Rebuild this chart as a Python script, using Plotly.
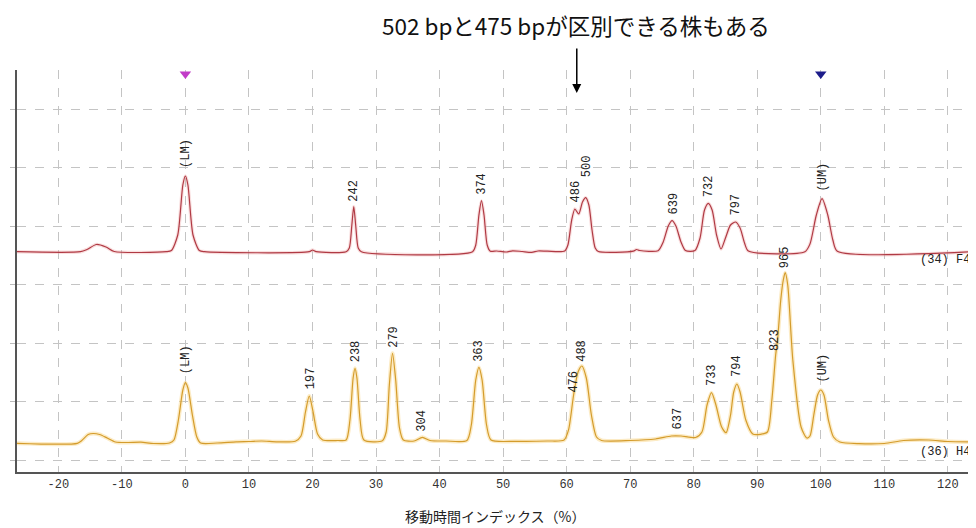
import plotly.graph_objects as go

# ---- data (x = migration index %, y = signal, arbitrary units) ----
f4_x = [-26.5, -16.5, -15.5, -14, -12.5, -11.2, -3, -2.2, -1.2, -0.4, 0, 0.4, 1.2, 2.2, 3,
        19.5, 20, 20.6, 25.3, 25.8, 26.2, 26.5, 26.8, 27.2, 27.7,
        45.2, 45.7, 46.2, 46.6, 47.0, 47.5, 48.0, 49, 50.5, 51.5, 53, 54.5, 55.5, 57,
        59.7, 60.2, 60.8, 61.3, 61.9, 62.5, 63.0, 63.5, 64.0, 64.5, 65, 70.5, 71, 71.5,
        74.4, 75.2, 76.0, 76.6, 77.2, 78.0, 78.7,
        80.2, 81.0, 81.7, 82.3, 82.9, 83.6, 84.3, 85.0, 85.8, 86.6, 87.3, 88.0, 88.6,
        97.5, 98.3, 99.3, 100.2, 101.1, 101.9, 102.6, 124]
f4_y = [208.3, 208.3, 210.5, 215.5, 213, 208.5, 208.3, 209.5, 225, 275, 284, 275, 225, 209.5, 208.3,
        208.3, 210, 208.3, 208.3, 212, 235, 253.3, 235, 212, 208.3,
        208.3, 215, 245, 259.3, 245, 215, 208.8, 209, 208, 209.2, 208.5, 207.7, 209, 208.8,
        209, 215, 240, 251, 246, 258, 262.3, 255, 230, 212, 208.5, 208.8, 210.5, 209.5,
        209.3, 218, 234, 239.3, 234, 218, 209.5,
        209.5, 222, 250, 256.7, 250, 225, 211, 222, 235, 238, 232, 217, 209,
        208.3, 216, 245, 261.3, 245, 220, 208.8, 208.3]

h4_x = [-26.5, -17, -16.3, -15.3, -14.5, -13.5, -12.3, -11, -9, -7, -5, -2.5, -1.8, -1.1, -0.4, 0,
        0.4, 1.1, 1.8, 2.4, 5, 8, 10, 12, 14.5, 17.3, 18.2, 18.9, 19.5, 20.1, 20.8, 21.6, 24,
        25.3, 25.9, 26.4, 26.7, 27.0, 27.5, 28.1, 31, 31.6, 32.1, 32.6, 33.1, 33.7, 34.3,
        36, 37.3, 38.5, 41, 44.3, 45.0, 45.7, 46.2, 46.7, 47.4, 48.1, 52, 57,
        59.6, 60.3, 61.1, 61.8, 62.4, 63.1, 63.9, 64.7, 65.5, 70, 74, 76.5, 78,
        80.3, 81.3, 82.1, 82.8, 83.5, 84.4, 85.1, 85.8, 86.3, 86.8, 87.3, 88.2, 89.3, 90.5,
        91.6, 92.3, 92.9, 93.2, 93.7, 94.1, 94.4, 94.8, 95.6, 96.9, 97.8, 98.3, 98.9, 99.5,
        100, 100.5, 101.2, 102.0, 103.0, 106, 110, 113, 117, 120, 124]
h4_y = [16.7, 16.7, 19.5, 25.5, 26.5, 25.5, 22, 18, 17.5, 17.8, 16.5, 17, 20, 40, 70, 77.3,
        72, 45, 23, 17, 17, 18.2, 18.5, 19, 18.2, 18.8, 24, 48, 64, 48, 26, 20, 19.5,
        20, 40, 82, 91.7, 82, 40, 20, 19.2, 28, 75, 106.7, 80, 32, 20,
        19, 22.7, 19.5, 19, 19.5, 35, 80, 92.7, 80, 35, 20, 18.7, 19,
        20, 30, 65, 88, 94, 82, 45, 23, 19.5, 19.5, 21, 24, 24,
        22.5, 28, 55, 67.3, 55, 33, 27.3, 45, 68, 76, 68, 40, 26, 25.7,
        28, 60, 105, 120, 160, 180, 187.3, 175, 100, 33, 22, 24, 45, 65,
        70, 65, 40, 23, 18, 16.3, 16.5, 19.5, 20, 18.5, 18]

# peak labels: (x, y of label base, text)
f4_lab_x = [0, 26.6, 46.7, 61.4, 63.2, 76.85, 82.4, 86.7, 100.3]
f4_lab_y = [290, 256.7, 263.3, 255, 280.7, 243.3, 260.7, 242.7, 266.7]
f4_lab_t = ["(LM)", "242", "374", "486", "500", "639", "732", "797", "(UM)"]

h4_lab_x = [0.1, 19.8, 26.85, 32.8, 37.3, 46.3, 61.1, 62.5, 77.5, 83.0, 86.8, 92.9, 94.4, 100.2]
h4_lab_y = [83.3, 69, 95.7, 110, 26.7, 95.7, 65, 95.7, 28.3, 71.7, 81, 106.7, 190, 75]
h4_lab_t = ["(LM)", "197", "238", "279", "304", "363", "476", "488", "637", "733", "794",
            "823", "965", "(UM)"]

marker_x = [0, 100]
marker_colors = ["#c23cc8", "#1c1c8a"]

x_ticks = list(range(-20, 130, 10))

RED = "#b03a44"
ORANGE = "#d49c2c"
LABEL_FONT = dict(family="Liberation Mono, DejaVu Sans Mono, monospace", size=12, color="#222222")

fig = go.Figure()

# soft halos
fig.add_trace(go.Scatter(x=f4_x, y=f4_y, mode="lines", line=dict(color="rgba(240,175,175,0.4)", width=3.5, shape="spline", smoothing=0.7), hoverinfo="skip", showlegend=False))
fig.add_trace(go.Scatter(x=h4_x, y=h4_y, mode="lines", line=dict(color="rgba(250,215,140,0.5)", width=4, shape="spline", smoothing=0.7), hoverinfo="skip", showlegend=False))
# traces
fig.add_trace(go.Scatter(x=f4_x, y=f4_y, mode="lines", name="(34) F4", line=dict(color=RED, width=1.2, shape="spline", smoothing=0.7), showlegend=False))
fig.add_trace(go.Scatter(x=h4_x, y=h4_y, mode="lines", name="(36) H4", line=dict(color=ORANGE, width=1.2, shape="spline", smoothing=0.7), showlegend=False))

# marker triangles (LM / UM)
fig.add_trace(go.Scatter(x=marker_x, y=[386, 386], mode="markers",
                         marker=dict(symbol="triangle-down", size=10, color=marker_colors),
                         cliponaxis=False, showlegend=False, hoverinfo="skip"))

annotations = []
for xs, ys, ts in [(f4_lab_x, f4_lab_y, f4_lab_t), (h4_lab_x, h4_lab_y, h4_lab_t)]:
    for xv, yv, tv in zip(xs, ys, ts):
        annotations.append(dict(x=xv, y=yv, xref="x", yref="y", text=tv, showarrow=False,
                                textangle=-90, xanchor="center", yanchor="bottom",
                                font=LABEL_FONT))

annotations.append(dict(x=1, y=200, xref="paper", yref="y", text="(34) F4", showarrow=False,
                        xanchor="right", yanchor="middle",
                        font=dict(family="Liberation Mono, monospace", size=12, color="#222")))
annotations.append(dict(x=1, y=8, xref="paper", yref="y", text="(36) H4", showarrow=False,
                        xanchor="right", yanchor="middle",
                        font=dict(family="Liberation Mono, monospace", size=12, color="#222")))

# headline and arrow
annotations.append(dict(x=61.4, y=1.113, xref="x", yref="paper",
                        text="502 bpと475 bpが区別できる株もある", showarrow=False,
                        xanchor="center", yanchor="middle",
                        font=dict(family="Noto Sans CJK JP, sans-serif", size=22.5, color="#111")))
annotations.append(dict(x=61.6, y=0.943, xref="x", yref="paper", text="", showarrow=True,
                        ax=0, ay=-46, arrowhead=2, arrowsize=1.2, arrowwidth=1.5,
                        arrowcolor="#000"))
# x axis title
annotations.append(dict(x=0.5, y=-0.11, xref="paper", yref="paper",
                        text="移動時間インデックス（%）", showarrow=False,
                        xanchor="center", yanchor="middle",
                        font=dict(family="Noto Sans CJK JP, sans-serif", size=14, color="#222")))

# the page body has an 8px margin, so the figure is sized to fill the rest of the window
fig.update_layout(
    width=968, height=520,
    margin=dict(l=5, r=4, t=62, b=56),
    paper_bgcolor="white", plot_bgcolor="white",
    annotations=annotations,
    showlegend=False,
)
fig.update_xaxes(range=[-26.5, 123.8], tickmode="array", tickvals=x_ticks,
                 ticktext=[str(v) for v in x_ticks],
                 showgrid=True, gridcolor="#c4c4c4", griddash="dash", gridwidth=1,
                 showline=True, linecolor="#555555", linewidth=2, ticks="",
                 tickfont=dict(family="Liberation Mono, monospace", size=12, color="#333"),
                 zeroline=False, fixedrange=True)
fig.update_yaxes(range=[-12, 390], tick0=0, dtick=58.45, showticklabels=False,
                 showgrid=True, gridcolor="#c4c4c4", griddash="dash", gridwidth=1,
                 showline=True, linecolor="#555555", linewidth=2,
                 ticks="outside", ticklen=5, tickcolor="#bbbbbb",
                 zeroline=False, fixedrange=True)

fig.write_html("out.html")
